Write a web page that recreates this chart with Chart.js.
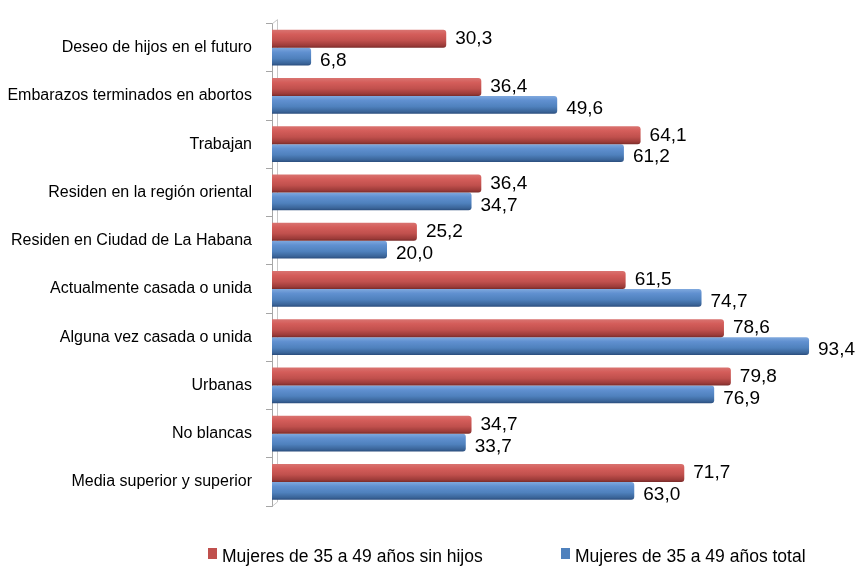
<!DOCTYPE html>
<html>
<head>
<meta charset="utf-8">
<script src="https://cdn.jsdelivr.net/npm/chart.js@4.4.1/dist/chart.umd.min.js"></script>
<style>
	html, body { margin: 0; padding: 0; background: #fff; }
	#wrap { width: 862px; height: 567px; position: relative; }
</style>
</head>
<body>
<div id="wrap"><canvas id="myChart"></canvas></div>
<script>
	// categorias (de arriba hacia abajo)
	var categories = [
		'Deseo de hijos en el futuro',
		'Embarazos terminados en abortos',
		'Trabajan',
		'Residen en la región oriental',
		'Residen en Ciudad de La Habana',
		'Actualmente casada o unida',
		'Alguna vez casada o unida',
		'Urbanas',
		'No blancas',
		'Media superior y superior'
	];

	var seriesNames = ['Mujeres de 35 a 49 años sin hijos', 'Mujeres de 35 a 49 años total'];
	var sinHijos = [30.3, 36.4, 64.1, 36.4, 25.2, 61.5, 78.6, 79.8, 34.7, 71.7];
	var total = [6.8, 49.6, 61.2, 34.7, 20.0, 74.7, 93.4, 76.9, 33.7, 63.0];

	// eje de valores (oculto)
	var xRange = [0, 100];

	var FONT = '"Liberation Sans", Arial, sans-serif';
	var CAT_PCT = 0.74;

	var redStops = [[0, '#d97370'], [0.25, '#d45d5a'], [0.6, '#c0504d'], [0.88, '#9c3b39'], [1, '#7a2c2a']];
	var blueStops = [[0, '#80a9de'], [0.25, '#6090d0'], [0.6, '#4f81bd'], [0.88, '#3a6498'], [1, '#2a4c7c']];

	// degradado vertical para simular barras cilindricas
	function barFill(stops) {
		return function(c) {
			var chart = c.chart, y = chart.scales.y;
			if (!y || c.dataIndex === undefined) return stops[2][1];
			var center = y.getPixelForValue(c.dataIndex);
			var step = Math.abs(y.getPixelForValue(1) - y.getPixelForValue(0));
			var h = step * CAT_PCT / 2;
			if (!isFinite(center) || !isFinite(h) || h <= 0) return stops[2][1];
			var top = c.datasetIndex === 0 ? center - h : center;
			var g = chart.ctx.createLinearGradient(0, top, 0, top + h);
			stops.forEach(function(s) { g.addColorStop(s[0], s[1]); });
			return g;
		};
	}

	// etiquetas de valor al final de cada barra
	var valueLabels = {
		id: 'valueLabels',
		afterDatasetsDraw: function(chart) {
			var ctx = chart.ctx;
			ctx.save();
			ctx.font = '19px ' + FONT;
			ctx.fillStyle = '#000';
			ctx.textBaseline = 'middle';
			chart.data.datasets.forEach(function(ds, i) {
				chart.getDatasetMeta(i).data.forEach(function(bar, j) {
					var txt = ds.data[j].toFixed(1).replace('.', ',');
					ctx.fillText(txt, bar.x + 9, bar.y + (i === 0 ? 0 : 4));
				});
			});
			ctx.restore();
		}
	};

	// pared 3D del eje
	var axisWall = {
		id: 'axisWall',
		beforeDatasetsDraw: function(chart) {
			var a = chart.chartArea, ctx = chart.ctx;
			ctx.save();
			ctx.strokeStyle = '#c8c8c8';
			ctx.lineWidth = 1;
			ctx.beginPath();
			ctx.moveTo(a.left + 5.5, a.top - 4);
			ctx.lineTo(a.left + 5.5, a.bottom - 4);
			ctx.lineTo(a.left + 0.5, a.bottom);
			ctx.moveTo(a.left + 0.5, a.top);
			ctx.lineTo(a.left + 5.5, a.top - 4);
			ctx.stroke();
			ctx.restore();
		}
	};

	// leyenda inferior
	var bottomLegend = {
		id: 'bottomLegend',
		afterDraw: function(chart) {
			var ctx = chart.ctx;
			var xs = [208, 561];
			ctx.save();
			ctx.font = '17.5px ' + FONT;
			ctx.textBaseline = 'middle';
			chart.data.datasets.forEach(function(ds, i) {
				ctx.fillStyle = ds.legendColor;
				ctx.fillRect(xs[i], 548, 9, 11);
				ctx.fillStyle = '#000';
				ctx.fillText(ds.label, xs[i] + 14, 557);
			});
			ctx.restore();
		}
	};

	var data = {
		labels: categories,
		datasets: [{
			label: seriesNames[0],
			data: sinHijos,
			backgroundColor: barFill(redStops),
			legendColor: '#c0504d',
			borderRadius: 3,
			borderSkipped: 'start',
			barPercentage: 1,
			categoryPercentage: CAT_PCT
		}, {
			label: seriesNames[1],
			data: total,
			backgroundColor: barFill(blueStops),
			legendColor: '#4f81bd',
			borderRadius: 3,
			borderSkipped: 'start',
			barPercentage: 1,
			categoryPercentage: CAT_PCT
		}]
	};

	var options = {
		indexAxis: 'y',
		responsive: true,
		maintainAspectRatio: false,
		animation: false,
		layout: { padding: { top: 19, right: 15, bottom: 61, left: 0 } },
		scales: {
			x: { display: false, min: xRange[0], max: xRange[1] },
			y: {
				afterFit: function(s) { s.width = 272; },
				grid: { drawOnChartArea: false, color: '#a6a6a6', tickLength: 6, offset: true },
				border: { color: '#a6a6a6' },
				ticks: { color: '#000', font: { family: FONT, size: 16 }, padding: 14 }
			}
		},
		plugins: {
			legend: { display: false },
			tooltip: { enabled: false }
		}
	};

	var ctx = document.getElementById('myChart').getContext('2d');
	var myChart = new Chart(ctx, {
		type: 'bar',
		data: data,
		options: options,
		plugins: [axisWall, valueLabels, bottomLegend]
	});
</script>
</body>
</html>
